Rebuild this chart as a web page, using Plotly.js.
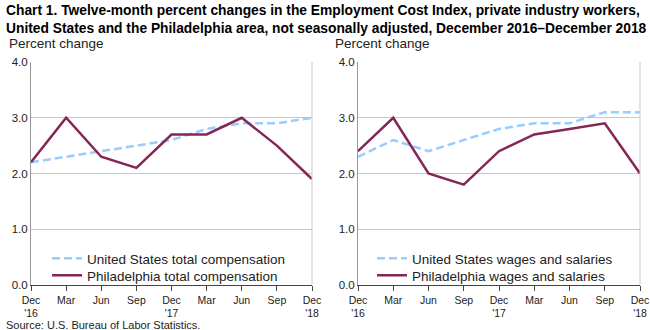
<!DOCTYPE html>
<html>
<head>
<meta charset="utf-8">
<script src="https://cdn.plot.ly/plotly-3.0.1.min.js"></script>
<style>html,body{margin:0;padding:0;background:#fff}#chart{width:650px;height:330px}</style>
</head>
<body>
<div id="chart"></div>
<script>
const periods = [0,1,2,3,4,5,6,7,8];
const tickLabels = ["Dec<br>'16","Mar","Jun","Sep","Dec<br>'17","Mar","Jun","Sep","Dec<br>'18"];
const usTotalComp = [2.2,2.3,2.4,2.5,2.6,2.8,2.9,2.9,3.0];
const phlTotalComp = [2.2,3.0,2.3,2.1,2.7,2.7,3.0,2.5,1.9];
const usWages = [2.3,2.6,2.4,2.6,2.8,2.9,2.9,3.1,3.1];
const phlWages = [2.4,3.0,2.0,1.8,2.4,2.7,2.8,2.9,2.0];

const BLUE = '#99ccff', MAROON = '#842656';
const FONT = 'Liberation Sans, Arial, sans-serif';

const traces = [
  {x: periods, y: usTotalComp, xaxis:'x', yaxis:'y', mode:'lines', name:'United States total compensation', line:{color:BLUE, width:2.5, dash:'8px,4px'}, legend:'legend'},
  {x: periods, y: phlTotalComp, xaxis:'x', yaxis:'y', mode:'lines', name:'Philadelphia total compensation', line:{color:MAROON, width:2.5}, legend:'legend2'},
  {x: periods, y: usWages, xaxis:'x2', yaxis:'y2', mode:'lines', name:'United States wages and salaries', line:{color:BLUE, width:2.5, dash:'8px,4px'}, legend:'legend3'},
  {x: periods, y: phlWages, xaxis:'x2', yaxis:'y2', mode:'lines', name:'Philadelphia wages and salaries', line:{color:MAROON, width:2.5}, legend:'legend4'}
];

const xBase = {range:[0,8], tickvals: periods, ticktext: tickLabels, ticks:'outside', ticklen:5, tickcolor:'#444', showline:true, linecolor:'#444', linewidth:1, showgrid:false, zeroline:false, tickfont:{family:FONT, size:10.5, color:'#222'}, ticklabeloverflow:'allow', fixedrange:true};
const yBase = {range:[0,4], dtick:1, tickformat:'.1f', showline:true, linecolor:'#999', showgrid:true, gridcolor:'#c8c8c8', zeroline:false, ticks:'', tickfont:{family:FONT, size:11.5, color:'#222'}, fixedrange:true};

const legBase = {bgcolor:'rgba(0,0,0,0)', font:{family:FONT, size:13.5, color:'#222'}, xanchor:'left', yanchor:'top', tracegroupgap:0, itemwidth:30};

const layout = {
  width:650, height:330,
  margin:{l:0,r:0,t:0,b:0},
  paper_bgcolor:'#fff', plot_bgcolor:'#fff',
  showlegend:true,
  xaxis: Object.assign({}, xBase, {domain:[31/650, 312/650], anchor:'y'}),
  yaxis: Object.assign({}, yBase, {domain:[45/330, 268/330], anchor:'x'}),
  xaxis2: Object.assign({}, xBase, {domain:[358/650, 640/650], anchor:'y2'}),
  yaxis2: Object.assign({}, yBase, {domain:[45/330, 268/330], anchor:'x2'}),
  legend: Object.assign({}, legBase, {x:47/650, y:1-243/330}),
  legend2: Object.assign({}, legBase, {x:47/650, y:1-260/330}),
  legend3: Object.assign({}, legBase, {x:372/650, y:1-243/330}),
  legend4: Object.assign({}, legBase, {x:372/650, y:1-260/330}),
  shapes:[
    {type:'line', xref:'paper', yref:'paper', x0:312/650, x1:312/650, y0:45/330, y1:268/330, line:{color:'#c8c8c8', width:1}},
    {type:'line', xref:'paper', yref:'paper', x0:640/650, x1:640/650, y0:45/330, y1:268/330, line:{color:'#c8c8c8', width:1}}
  ],
  annotations:[
    {xref:'paper', yref:'paper', x:4/650, y:1-1/330, xanchor:'left', yanchor:'top', align:'left', showarrow:false,
     text:'<b>Chart 1. Twelve-month percent changes in the Employment Cost Index, private industry workers,<br>United States and the Philadelphia area, not seasonally adjusted, December 2016–December 2018</b>',
     font:{family:FONT, size:13.8, color:'#000'}},
    {xref:'paper', yref:'paper', x:7/650, y:1-44/330, xanchor:'left', yanchor:'middle', showarrow:false, text:'Percent change', font:{family:FONT, size:13.5, color:'#222'}},
    {xref:'paper', yref:'paper', x:333/650, y:1-44/330, xanchor:'left', yanchor:'middle', showarrow:false, text:'Percent change', font:{family:FONT, size:13.5, color:'#222'}},
    {xref:'paper', yref:'paper', x:4/650, y:1-324.5/330, xanchor:'left', yanchor:'middle', showarrow:false, text:'Source: U.S. Bureau of Labor Statistics.', font:{family:FONT, size:11, color:'#222'}}
  ]
};

Plotly.newPlot('chart', traces, layout, {displayModeBar:false, staticPlot:true});
</script>
</body>
</html>
